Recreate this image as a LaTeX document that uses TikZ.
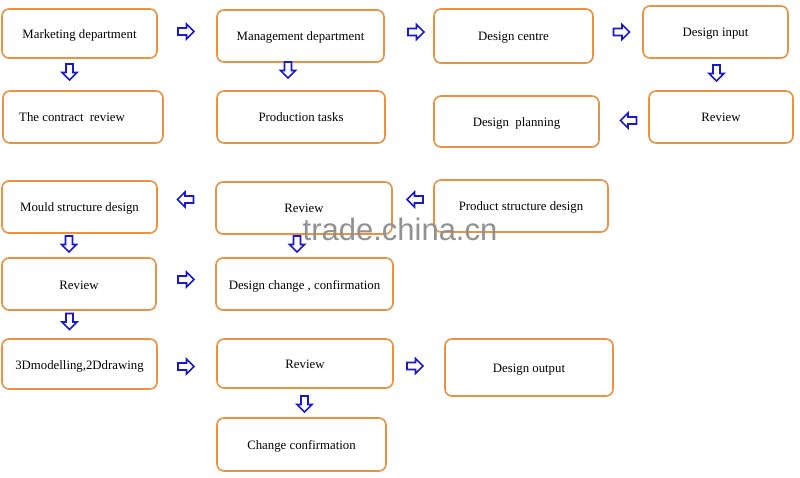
\documentclass[tikz,border=0pt]{standalone}
\usepackage{fontspec}
\setmainfont{Liberation Serif}
\newfontfamily\wmfont{Liberation Sans}
\definecolor{boxorange}{RGB}{232,146,66}
\definecolor{arrblue}{RGB}{25,25,200}
\definecolor{wmgrey}{RGB}{145,145,145}
\tikzset{
  box/.style={draw=boxorange, line width=1.6pt, rounded corners=7pt, fill=white,
    inner sep=0pt, text height=12pt, text depth=2pt, font=\fontsize{12.8}{15}\selectfont},
  blkarrow/.style={draw=arrblue, fill=white, line width=1.6pt, line join=miter},
  watermark/.style={text=wmgrey, font=\wmfont\fontsize{31}{34}\selectfont, inner sep=0pt}
}
% block arrow: name, position, rotation (0 right, 180 left, -90 down)
\newcommand\blockarrow[3]{%
  \coordinate (#1) at (#2);
  \draw[blkarrow, shift={(#1)}, rotate=#3]
    (-8,-3.5) -- (0.5,-3.5) -- (0.5,-7.5) -- (8,0) -- (0.5,7.5) -- (0.5,3.5) -- (-8,3.5) -- cycle;}
\begin{document}
\begin{tikzpicture}[x=1pt,y=-1pt]
\useasboundingbox (0,0) rectangle (800,478);
\fill[white] (0,0) rectangle (800,478);
% boxes
\node[box, minimum width=155pt, minimum height=49pt] (mkt) at (79.5,33.5) {Marketing department};
\node[box, minimum width=167pt, minimum height=52pt] (mgmt) at (300.5,36) {Management department};
\node[box, minimum width=159pt, minimum height=54pt] (dcen) at (513.5,36) {Design centre};
\node[box, minimum width=145pt, minimum height=52pt] (din) at (715.5,32) {Design input};
\node[box, minimum width=160pt, minimum height=52pt] (contract) at (83,117) {The contract\ \ review\kern22pt};
\node[box, minimum width=168pt, minimum height=52pt] (prod) at (301,117) {Production tasks};
\node[box, minimum width=165pt, minimum height=51pt] (plan) at (516.5,121.5) {Design\ \ planning};
\node[box, minimum width=144pt, minimum height=52pt] (rev1) at (721,117) {Review};
\node[box, minimum width=155pt, minimum height=52pt] (mould) at (79.5,207) {Mould structure design};
\node[box, minimum width=176pt, minimum height=52pt] (rev2) at (304,208) {Review};
\node[box, minimum width=174pt, minimum height=52pt] (pstruct) at (521,206) {Product structure design};
\node[box, minimum width=154pt, minimum height=52pt] (rev3) at (79,284) {Review};
\node[box, minimum width=177pt, minimum height=52pt] (change) at (304.5,284) {Design change , confirmation};
\node[box, minimum width=155pt, minimum height=50pt] (model) at (79.5,364) {3Dmodelling,2Ddrawing};
\node[box, minimum width=176pt, minimum height=49pt] (rev4) at (305,363.5) {Review};
\node[box, minimum width=168pt, minimum height=57pt] (out) at (529,367.5) {Design output};
\node[box, minimum width=169pt, minimum height=53pt] (cconf) at (301.5,444.5) {Change confirmation};
% block arrows between the boxes
\blockarrow{a1}{186,31.5}{0}
\blockarrow{a2}{416,32}{0}
\blockarrow{a3}{621.5,32}{0}
\blockarrow{d1}{69.5,72}{-90}
\blockarrow{d2}{288,70}{-90}
\blockarrow{d3}{716.5,73}{-90}
\blockarrow{l1}{628.5,120.5}{180}
\blockarrow{l2}{185.5,199.5}{180}
\blockarrow{l3}{415,199.5}{180}
\blockarrow{d4}{69,244}{-90}
\blockarrow{d5}{297,244}{-90}
\blockarrow{r4}{186,279.5}{0}
\blockarrow{d6}{69.5,321.5}{-90}
\blockarrow{r5}{186,366.5}{0}
\blockarrow{r6}{415,366}{0}
\blockarrow{d7}{304.5,404}{-90}
% watermark
\node[watermark] (wm) at (400,229) {trade.china.cn};
\end{tikzpicture}
\end{document}
